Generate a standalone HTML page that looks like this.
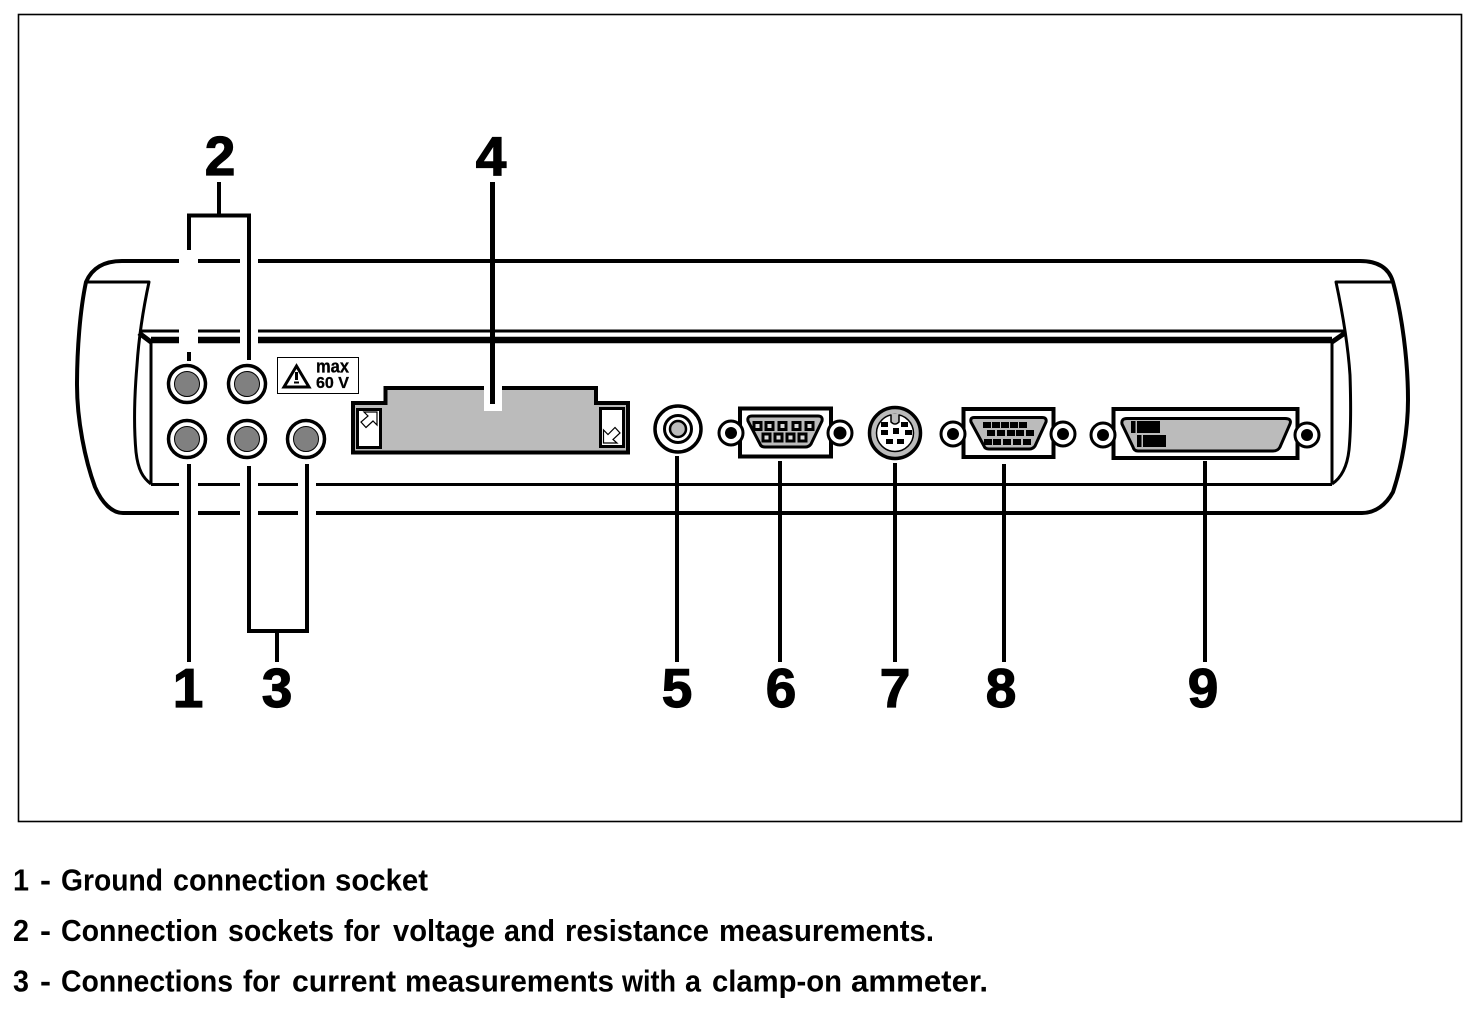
<!DOCTYPE html>
<html>
<head>
<meta charset="utf-8">
<style>
html,body{margin:0;padding:0;background:#fff;width:1480px;height:1018px;overflow:hidden}
svg{display:block}
text{font-family:"Liberation Sans",sans-serif;font-weight:bold;fill:#000}
.n{font-size:55px;text-anchor:middle;stroke:#000;stroke-width:1.2}
.c{font-size:31px}
</style>
</head>
<body>
<svg width="1480" height="1018" viewBox="0 0 1480 1018" xmlns="http://www.w3.org/2000/svg">
<rect width="1480" height="1018" fill="#fff"/>
<rect x="18.5" y="14.5" width="1443" height="807" fill="none" stroke="#000" stroke-width="1.6"/>

<!-- body -->
<g fill="none" stroke="#000" stroke-linejoin="round">
<path d="M122 261H1360C1378 261 1389 268 1393 282C1402 315 1408 360 1408 400C1408 430 1402 465 1393 492C1386 505 1375 513 1362 513H123C112 513 102 503 95 487C85 460 77 420 77 385C77 350 80 310 86 282C92 268 104 261 122 261Z" stroke-width="4"/>
<path d="M86 282H149C143 310 139 335 137 365C134 400 134 430 136 452C138 470 143 478 151 484" stroke-width="3"/>
<path d="M1393 282H1336C1343 315 1348 345 1350 375C1351 405 1351 430 1349 450C1347 468 1341 478 1332 484" stroke-width="3"/>
<path d="M139 331H1345" stroke-width="3"/>
<path d="M151 484.5H1332" stroke-width="3"/>
<path d="M151 341V484M1332 341V484" stroke-width="3"/>
<path d="M151 340H1332" stroke-width="6.5"/>
<path d="M139 333L151 342M1345 333L1332 342" stroke-width="5"/>
</g>

<!-- white gaps in body lines -->
<g fill="#fff">
<rect x="179" y="255" width="19" height="12"/>
<rect x="240" y="255" width="18" height="12"/>
<rect x="179" y="326" width="19" height="20"/>
<rect x="240" y="326" width="18" height="20"/>
<rect x="179" y="480" width="19" height="38"/>
<rect x="240" y="480" width="18" height="38"/>
<rect x="298" y="480" width="18" height="38"/>
</g>

<!-- leaders -->
<g stroke="#000" stroke-width="4" fill="none">
<path d="M189 250V215.5H249V360"/>
<path d="M219 182V215"/>
<path d="M189 352V361"/>
<path d="M189 464V662"/>
<path d="M249 466V631H307V464"/>
<path d="M277 631V662"/>
</g>

<!-- sockets -->
<g stroke="#000">
<circle cx="187" cy="384" r="18.5" fill="#fff" stroke-width="3.5"/><circle cx="187" cy="384" r="12.5" fill="#808080" stroke-width="1"/>
<circle cx="247" cy="384" r="18.5" fill="#fff" stroke-width="3.5"/><circle cx="247" cy="384" r="12.5" fill="#808080" stroke-width="1"/>
<circle cx="187" cy="439" r="18.5" fill="#fff" stroke-width="3.5"/><circle cx="187" cy="439" r="12.5" fill="#808080" stroke-width="1"/>
<circle cx="247" cy="439" r="18.5" fill="#fff" stroke-width="3.5"/><circle cx="247" cy="439" r="12.5" fill="#808080" stroke-width="1"/>
<circle cx="306" cy="439" r="18.5" fill="#fff" stroke-width="3.5"/><circle cx="306" cy="439" r="12.5" fill="#808080" stroke-width="1"/>
</g>

<!-- warning label -->
<rect x="277.5" y="357.5" width="81" height="36" fill="#fff" stroke="#000" stroke-width="1"/>
<path d="M296.5 366L309 387H284Z" fill="#fff" stroke="#000" stroke-width="3" stroke-linejoin="miter"/>
<rect x="295" y="372" width="3" height="8" fill="#000"/><rect x="294" y="381.500" width="5" height="2" fill="#000"/>
<text x="316" y="372.500" font-size="18" textLength="33" lengthAdjust="spacingAndGlyphs" stroke="#000" stroke-width=".3">max</text>
<text x="316" y="388" font-size="16" textLength="33" lengthAdjust="spacingAndGlyphs" stroke="#000" stroke-width=".3">60 V</text>

<!-- card 4 -->
<path d="M353 403H385.500V388H596V403H628V452.500H353Z" fill="#bbb" stroke="#000" stroke-width="4"/>
<rect x="357.500" y="409.500" width="23" height="38" fill="#fff" stroke="#000" stroke-width="3"/>
<rect x="600.500" y="408.500" width="23" height="38" fill="#fff" stroke="#000" stroke-width="3"/>
<path d="M377 412V425L373 421L366 427.500L361 422L368 416L364 412Z" fill="#fff" stroke="#000" stroke-width="1.200"/>
<path d="M603.500 443V430L608 434.500L615 427.500L620 433L613 439.500L617 443Z" fill="#fff" stroke="#000" stroke-width="1.200"/>
<rect x="484" y="385" width="18" height="26" fill="#fff"/>
<path d="M492.500 182V404" stroke="#000" stroke-width="5"/>

<!-- 5 -->
<circle cx="678" cy="429" r="23" fill="#fff" stroke="#000" stroke-width="3.500"/>
<circle cx="678" cy="429" r="13.500" fill="#fff" stroke="#000" stroke-width="3"/>
<circle cx="678" cy="429" r="8" fill="#bbb" stroke="#000" stroke-width="2.500"/>
<path d="M677 456V662" stroke="#000" stroke-width="4"/>

<!-- 6 -->
<rect x="740" y="408.500" width="91" height="48" fill="#fff" stroke="#000" stroke-width="4"/>
<circle cx="731" cy="433" r="12" fill="#fff" stroke="#000" stroke-width="3"/><circle cx="731" cy="433" r="6" fill="#000"/>
<circle cx="840" cy="433" r="12" fill="#fff" stroke="#000" stroke-width="3"/><circle cx="840" cy="433" r="6.500" fill="#000"/>
<path d="M752 416H818Q823 416 822 421L811 444Q809 447 805 447H765Q761 447 760 444L748 421Q747 416 752 416Z" fill="#bbb" stroke="#000" stroke-width="3"/>
<g fill="#ddd" stroke="#000" stroke-width="3">
<rect x="754" y="422.500" width="7" height="7"/><rect x="766" y="422.500" width="7" height="7"/><rect x="779" y="422.500" width="7" height="7"/><rect x="793" y="422.500" width="7" height="7"/><rect x="806" y="422.500" width="7" height="7"/>
<rect x="763" y="434" width="7" height="7"/><rect x="775" y="434" width="7" height="7"/><rect x="787" y="434" width="7" height="7"/><rect x="799" y="434" width="7" height="7"/>
</g>
<path d="M780 461V662" stroke="#000" stroke-width="4"/>

<!-- 7 -->
<circle cx="895" cy="433" r="25.500" fill="#bbb" stroke="#000" stroke-width="3.500"/>
<circle cx="895" cy="433" r="18.500" fill="#fff" stroke="#000" stroke-width="1.500"/>
<path d="M895 414V423" stroke="#bbb" stroke-width="7"/>
<path d="M891 415V422Q895 426 899 422V415" fill="none" stroke="#000" stroke-width="1.500"/>
<g fill="#000">
<rect x="881" y="422" width="7" height="5"/><rect x="901" y="422" width="7" height="5"/>
<rect x="881" y="430" width="7" height="5"/><rect x="893" y="428" width="6" height="6"/><rect x="905" y="430" width="7" height="5"/>
<rect x="886" y="439" width="7" height="5"/><rect x="897" y="439" width="7" height="5"/>
</g>
<path d="M895 463V662" stroke="#000" stroke-width="4"/>

<!-- 8 -->
<rect x="963.500" y="409" width="90" height="48" fill="#fff" stroke="#000" stroke-width="4"/>
<circle cx="953" cy="434" r="12" fill="#fff" stroke="#000" stroke-width="3"/><circle cx="953" cy="434" r="6" fill="#000"/>
<circle cx="1063" cy="434" r="12" fill="#fff" stroke="#000" stroke-width="3"/><circle cx="1063" cy="434" r="6" fill="#000"/>
<path d="M974 417.500H1042Q1047 417.500 1046 422L1035 446Q1033 449 1029 449H989Q985 449 984 446L971 422Q970 417.500 974 417.500Z" fill="#bbb" stroke="#000" stroke-width="3"/>
<g fill="#000">
<rect x="983" y="422" width="8" height="6"/><rect x="992" y="422" width="8" height="6"/><rect x="1001" y="422" width="8" height="6"/><rect x="1010" y="422" width="8" height="6"/><rect x="1019" y="422" width="8" height="6"/>
<rect x="987" y="430" width="8" height="6"/><rect x="997" y="430" width="8" height="6"/><rect x="1007" y="430" width="8" height="6"/><rect x="1016" y="430" width="8" height="6"/><rect x="1026" y="430" width="8" height="6"/>
<rect x="984" y="439" width="8" height="6"/><rect x="993" y="439" width="8" height="6"/><rect x="1003" y="439" width="8" height="6"/><rect x="1013" y="439" width="8" height="6"/><rect x="1023" y="439" width="8" height="6"/>
</g>
<path d="M1004 464V662" stroke="#000" stroke-width="4"/>

<!-- 9 -->
<rect x="1113.500" y="409" width="184" height="49" fill="#fff" stroke="#000" stroke-width="4"/>
<circle cx="1103" cy="435" r="12" fill="#fff" stroke="#000" stroke-width="3"/><circle cx="1103" cy="435" r="6" fill="#000"/>
<circle cx="1307" cy="435" r="12" fill="#fff" stroke="#000" stroke-width="3"/><circle cx="1307" cy="435" r="6" fill="#000"/>
<path d="M1127 418.500H1285Q1292 418.500 1290 424L1280 447Q1278 451 1273 451H1138Q1134 451 1133 447L1122 424Q1121 418.500 1127 418.500Z" fill="#bbb" stroke="#000" stroke-width="3"/>
<g fill="#000">
<rect x="1131" y="421" width="29" height="12"/><rect x="1137" y="435" width="29" height="12"/>
</g>
<g fill="#bbb"><rect x="1135.500" y="421" width="1.500" height="12"/><rect x="1141.500" y="435" width="1.500" height="12"/></g>
<path d="M1205 461V662" stroke="#000" stroke-width="4"/>

<!-- numbers -->
<text class="n" x="220" y="175">2</text>
<text class="n" x="491" y="175">4</text>
<text class="n" x="188" y="707">1</text>
<text class="n" x="277" y="707">3</text>
<text class="n" x="677" y="707">5</text>
<text class="n" x="781" y="707">6</text>
<text class="n" x="895" y="707">7</text>
<text class="n" x="1001" y="707">8</text>
<text class="n" x="1203" y="707">9</text>

<!-- captions -->
<g class="cap">
<text class="c" x="13" y="890.500" textLength="16" lengthAdjust="spacingAndGlyphs">1</text>
<text class="c" x="40" y="890.500" textLength="11" lengthAdjust="spacingAndGlyphs">-</text>
<text class="c" x="61" y="890.500" textLength="102" lengthAdjust="spacingAndGlyphs">Ground</text>
<text class="c" x="173" y="890.500" textLength="153" lengthAdjust="spacingAndGlyphs">connection</text>
<text class="c" x="335" y="890.500" textLength="93" lengthAdjust="spacingAndGlyphs">socket</text>

<text class="c" x="13" y="941" textLength="16" lengthAdjust="spacingAndGlyphs">2</text>
<text class="c" x="40" y="941" textLength="11" lengthAdjust="spacingAndGlyphs">-</text>
<text class="c" x="61" y="941" textLength="157" lengthAdjust="spacingAndGlyphs">Connection</text>
<text class="c" x="228" y="941" textLength="106" lengthAdjust="spacingAndGlyphs">sockets</text>
<text class="c" x="344" y="941" textLength="36" lengthAdjust="spacingAndGlyphs">for</text>
<text class="c" x="393" y="941" textLength="102" lengthAdjust="spacingAndGlyphs">voltage</text>
<text class="c" x="504" y="941" textLength="51" lengthAdjust="spacingAndGlyphs">and</text>
<text class="c" x="565" y="941" textLength="144" lengthAdjust="spacingAndGlyphs">resistance</text>
<text class="c" x="719" y="941" textLength="215" lengthAdjust="spacingAndGlyphs">measurements.</text>

<text class="c" x="13" y="991.500" textLength="16" lengthAdjust="spacingAndGlyphs">3</text>
<text class="c" x="40" y="991.500" textLength="11" lengthAdjust="spacingAndGlyphs">-</text>
<text class="c" x="61" y="991.500" textLength="172" lengthAdjust="spacingAndGlyphs">Connections</text>
<text class="c" x="243" y="991.500" textLength="37" lengthAdjust="spacingAndGlyphs">for</text>
<text class="c" x="292" y="991.500" textLength="104" lengthAdjust="spacingAndGlyphs">current</text>
<text class="c" x="405" y="991.500" textLength="209" lengthAdjust="spacingAndGlyphs">measurements</text>
<text class="c" x="622" y="991.500" textLength="54" lengthAdjust="spacingAndGlyphs">with</text>
<text class="c" x="685" y="991.500" textLength="16" lengthAdjust="spacingAndGlyphs">a</text>
<text class="c" x="712" y="991.500" textLength="130" lengthAdjust="spacingAndGlyphs">clamp-on</text>
<text class="c" x="851" y="991.500" textLength="137" lengthAdjust="spacingAndGlyphs">ammeter.</text>
</g>
</svg>
</body>
</html>
